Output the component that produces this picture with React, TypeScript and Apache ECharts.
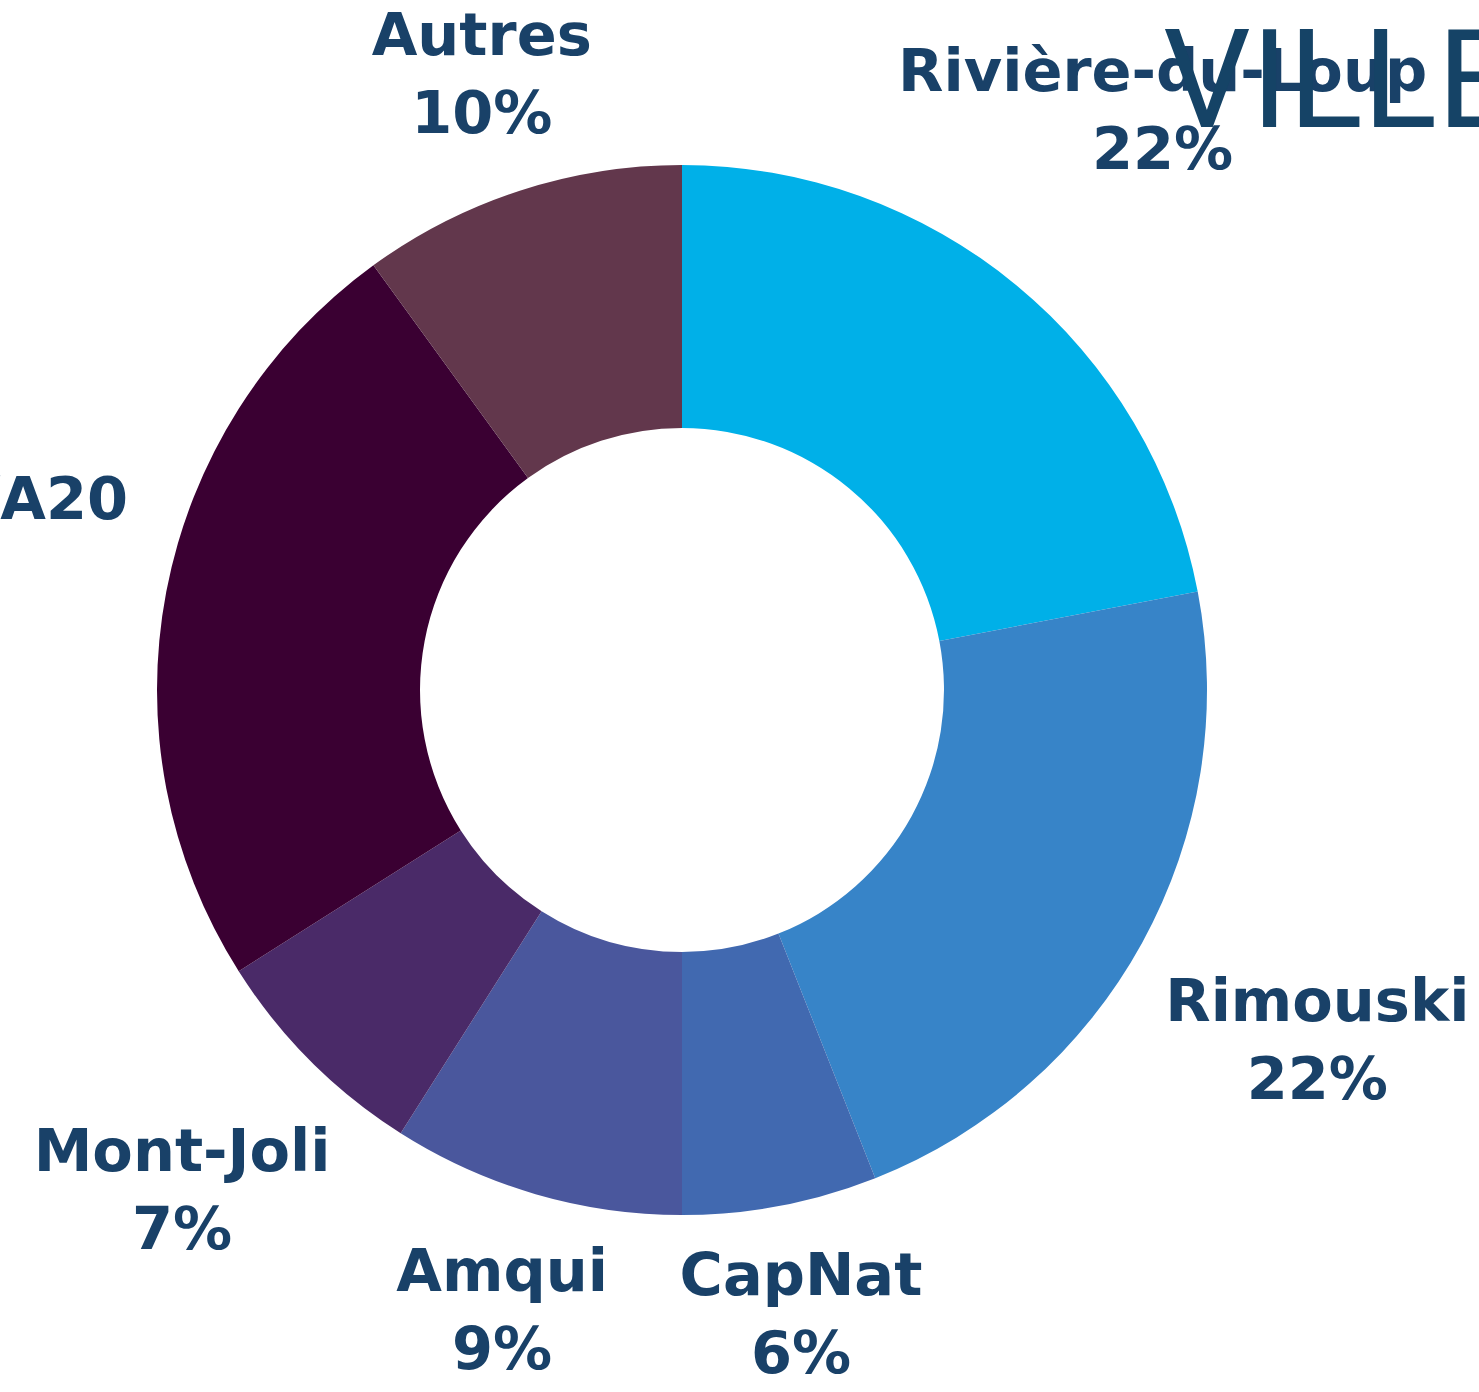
import React, { useEffect, useRef } from "react";
import * as echarts from "echarts";

const categories = ["Rivière-du-Loup", "Rimouski", "CapNat", "Amqui", "Mont-Joli", "Route 132/A20", "Autres"];
const shares = [22, 22, 6, 9, 7, 24, 10];
const sliceColors = ["#00B0E8", "#3784C8", "#4169B0", "#4A579D", "#4A2A68", "#3A0032", "#62374C"];
const titleText = "VILLE";

const CX = 682;
const CY = 690;
const R_IN = 262;
const R_OUT = 525;
const GAP = 36;

export default function App() {
  const ref = useRef<HTMLDivElement>(null);
  useEffect(() => {
    if (!ref.current) return;
    const chart = echarts.init(ref.current, null, { renderer: "svg" });
    const total = shares.reduce((a, b) => a + b, 0);
    const midAngles: number[] = [];
    let acc = 0;
    shares.forEach((v) => {
      midAngles.push(((acc + v / 2) / total) * Math.PI * 2);
      acc += v;
    });
    const placeLabel = (params: any) => {
      const a = midAngles[params.dataIndex];
      const w = params.labelRect.width;
      const h = params.labelRect.height * 0.8;
      const sx = Math.sin(a);
      const sy = -Math.cos(a);
      let t = R_OUT;
      for (; t < R_OUT + 800; t += 1) {
        const px = CX + t * sx;
        const py = CY + t * sy;
        const dx = Math.max(px - w / 2 - CX, 0, CX - (px + w / 2));
        const dy = Math.max(py - h / 2 - CY, 0, CY - (py + h / 2));
        if (Math.hypot(dx, dy) >= R_OUT + GAP) break;
      }
      return { x: CX + t * sx, y: CY + t * sy, align: "center", verticalAlign: "middle" };
    };
    chart.setOption({
      animation: false,
      backgroundColor: "#ffffff",
      series: [
        {
          type: "pie",
          center: [CX, CY],
          radius: [R_IN, R_OUT],
          startAngle: 90,
          clockwise: true,
          avoidLabelOverlap: false,
          itemStyle: { borderWidth: 0 },
          emphasis: { disabled: true },
          label: {
            show: true,
            position: "inside",
            formatter: "{b}\n{c}%",
            color: "#194168",
            fontFamily: "DejaVu Sans",
            fontWeight: "bold",
            fontSize: 59,
            lineHeight: 78,
            align: "center",
          },
          labelLine: { show: false },
          labelLayout: placeLabel,
          data: categories.map((name, i) => ({
            name,
            value: shares[i],
            itemStyle: { color: sliceColors[i] },
          })),
        },
      ],
      graphic: [
        {
          type: "text",
          x: 1163,
          y: 80,
          z: 100,
          style: {
            text: titleText,
            fill: "#154366",
            font: "normal 138px Roboto",
            verticalAlign: "middle",
            align: "left",
          },
        },
      ],
    });
    return () => chart.dispose();
  }, []);
  return (
    <div
      ref={ref}
      style={{ position: "absolute", left: 0, top: 0, width: 1479, height: 1392 }}
    />
  );
}
